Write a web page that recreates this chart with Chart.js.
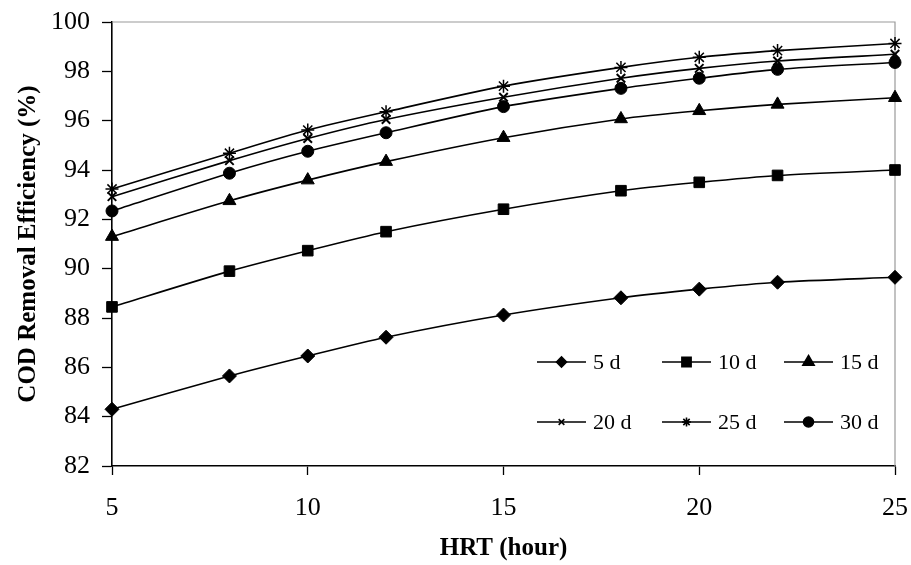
<!DOCTYPE html>
<html>
<head>
<meta charset="utf-8">
<script src="https://cdn.jsdelivr.net/npm/chart.js@4/dist/chart.umd.min.js"></script>
<style>
  html, body { margin: 0; padding: 0; background: #ffffff; }
  #wrap { width: 911px; height: 565px; }
</style>
</head>
<body>
<div id="wrap"><canvas id="grafico"></canvas></div>
<script>
// HRT (hour) en el eje X
const hrt = [5, 8, 10, 12, 15, 18, 20, 22, 25];

// Eficiencia de remoción de DQO (%) para cada SRT
const d5  = [84.3, 85.65, 86.46, 87.22, 88.12, 88.82, 89.17, 89.45, 89.65];
const d10 = [88.45, 89.9, 90.73, 91.5, 92.41, 93.16, 93.5, 93.78, 94.0];
const d15 = [91.3, 92.75, 93.59, 94.34, 95.31, 96.07, 96.4, 96.66, 96.93];
const d20 = [92.92, 94.38, 95.28, 96.05, 96.95, 97.72, 98.12, 98.42, 98.69];
const d25 = [93.23, 94.68, 95.62, 96.36, 97.4, 98.16, 98.57, 98.84, 99.13];
const d30 = [92.34, 93.87, 94.76, 95.51, 96.57, 97.31, 97.72, 98.08, 98.36];

const etiquetas = ['5 d', '10 d', '15 d', '20 d', '25 d', '30 d'];
const xTicks = [5, 10, 15, 20, 25];
const yTicks = [82, 84, 86, 88, 90, 92, 94, 96, 98, 100];

const fuente = "'Liberation Serif', 'Times New Roman', serif";

// estilos de marcador (grafico y leyenda)
const marcadores = [
    { style: 'rectRot', r: 7, lr: 5, bw: 1 },
    { style: 'rect', r: 7.5, lr: 6.5, bw: 1 },
    { style: 'triangle', r: 7.5, lr: 6.5, bw: 1 },
    { style: 'crossRot', r: 6, lr: 4, bw: 2 },
    { style: 'star', r: 6.5, lr: 4.5, bw: 1.5 },
    { style: 'circle', r: 6, lr: 5, bw: 1 }
];

const series = [d5, d10, d15, d20, d25, d30];

const datasets = series.map((serie, i) => ({
    label: etiquetas[i],
    data: serie.map((v, k) => ({ x: hrt[k], y: v })),
    borderColor: '#000000',
    backgroundColor: '#000000',
    borderWidth: 1.6,
    tension: 0.25,
    pointStyle: marcadores[i].style,
    pointRadius: marcadores[i].r,
    pointBorderWidth: marcadores[i].bw,
    pointBackgroundColor: '#000000',
    pointBorderColor: '#000000',
    clip: false
}));

// Marco gris superior y derecho
const marcoPlugin = {
    id: 'marco',
    beforeDatasetsDraw(chart) {
        const { ctx, chartArea: a } = chart;
        ctx.save();
        ctx.strokeStyle = '#9a9a9a';
        ctx.lineWidth = 1.2;
        ctx.beginPath();
        ctx.moveTo(a.left, a.top);
        ctx.lineTo(a.right, a.top);
        ctx.lineTo(a.right, a.bottom);
        ctx.stroke();
        ctx.restore();
    }
};

// Leyenda dentro del area de trazado (3 columnas x 2 filas)
const leyendaPlugin = {
    id: 'leyendaInterna',
    afterDraw(chart) {
        const { ctx } = chart;
        const columnas = [537, 662, 784];
        const filas = [362, 422];
        const largo = 49;
        ctx.save();
        ctx.font = '22px ' + fuente;
        ctx.textBaseline = 'middle';
        ctx.textAlign = 'left';
        chart.data.datasets.forEach((ds, i) => {
            const x0 = columnas[i % 3];
            const y0 = filas[Math.floor(i / 3)];
            ctx.strokeStyle = '#000';
            ctx.lineWidth = 1.6;
            ctx.beginPath();
            ctx.moveTo(x0, y0);
            ctx.lineTo(x0 + largo, y0);
            ctx.stroke();
            ctx.fillStyle = '#000';
            Chart.helpers.drawPoint(ctx, {
                pointStyle: marcadores[i].style,
                radius: marcadores[i].lr,
                borderWidth: marcadores[i].bw,
                rotation: 0
            }, x0 + largo / 2, y0);
            ctx.fillStyle = '#000';
            ctx.fillText(ds.label, x0 + largo + 7, y0 + 1);
        });
        ctx.restore();
    }
};

new Chart(document.getElementById('grafico'), {
    type: 'line',
    data: { datasets },
    plugins: [marcoPlugin, leyendaPlugin],
    options: {
        responsive: true,
        maintainAspectRatio: false,
        animation: false,
        layout: { padding: { top: 22, right: 16, left: 0, bottom: 0 } },
        plugins: {
            legend: { display: false },
            tooltip: { enabled: false }
        },
        scales: {
            x: {
                type: 'linear',
                min: 5,
                max: 25,
                afterBuildTicks: (s) => { s.ticks = xTicks.map(v => ({ value: v })); },
                afterFit: (s) => { s.height = 99; s.paddingLeft = 0; s.paddingRight = 0; },
                border: { display: true, color: '#000', width: 1.6 },
                grid: { drawOnChartArea: false, drawTicks: true, tickLength: 9, color: '#000', tickWidth: 1.3 },
                ticks: { color: '#000', padding: 18, maxRotation: 0, font: { family: fuente, size: 26 } },
                title: {
                    display: true,
                    text: 'HRT (hour)',
                    color: '#000',
                    padding: { top: 0, bottom: 1 },
                    font: { family: fuente, size: 25, weight: 'bold' }
                }
            },
            y: {
                min: 82,
                max: 100,
                afterBuildTicks: (s) => { s.ticks = yTicks.map(v => ({ value: v })); },
                afterFit: (s) => { s.width = 112; s.paddingTop = 0; s.paddingBottom = 0; },
                border: { display: true, color: '#000', width: 1.6 },
                grid: { drawOnChartArea: false, drawTicks: true, tickLength: 10, color: '#000', tickWidth: 1.3 },
                ticks: { color: '#000', padding: 12, font: { family: fuente, size: 26 } },
                title: {
                    display: true,
                    text: 'COD Removal Efficiency (%)',
                    color: '#000',
                    padding: { top: 14, bottom: 0 },
                    font: { family: fuente, size: 25, weight: 'bold' }
                }
            }
        }
    }
});
</script>
</body>
</html>
